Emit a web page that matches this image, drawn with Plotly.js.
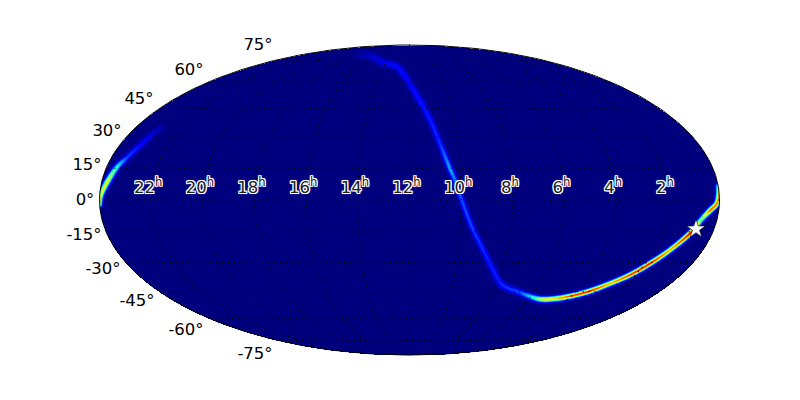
<!DOCTYPE html>
<html><head><meta charset="utf-8">
<script src="https://cdn.plot.ly/plotly-3.0.1.min.js"></script>
<style>html,body{margin:0;padding:0;background:#fff}#c{width:800px;height:400px}</style>
</head><body><div id="c"></div>
<script>
// Ridge of the sky map: right ascension (h), declination (deg), peak level, half width
const tailRA   = [22.86,23.01,23.16,23.38,23.60,23.79,23.95,23.99];
const tailDec  = [35.2,32.2,26.2,20.4,15.6,8.5,2.4,-2];
const tailPeak = [0.03,0.07,0.14,0.19,0.40,0.64,0.60,0.50];
const tailSig  = [2.4,2.2,2.0,2.0,2.0,2.0,1.8,1.6];

const mainRA   = [0.005,0.02,0.10,0.34,0.62,0.89,1.36,1.81,2.27,2.81,3.39,3.99,4.59,5.28,5.87,6.69,7.74,8.46,9.16,9.54,9.93,10.22,10.40,10.73,11.14,11.86,12.87,14.25,15.92,17.74];
const mainDec  = [7,3,-1.4,-4.7,-9,-15.6,-23.6,-30.2,-36,-40.4,-44.3,-46.8,-48.3,-48.9,-47.8,-45.1,-40.9,-32.2,-20.4,-12.7,-1.4,9.4,15.1,27.2,41.4,56.9,69.6,73.1,77.7,78.7];
const mainPeak = [0.35,0.7,0.8,0.82,0.5,0.92,0.72,0.9,0.85,0.72,0.88,0.85,0.72,0.62,0.4,0.2,0.16,0.15,0.17,0.19,0.2,0.24,0.3,0.17,0.15,0.13,0.13,0.1,0.07,0.02];
const mainSig  = [1.8,1.8,1.8,1.8,1.8,1.7,1.7,1.7,1.7,1.7,1.7,1.7,1.8,1.9,2.0,2.1,2.3,2.2,2.0,1.9,1.9,1.9,1.9,2.0,2.2,2.4,2.4,2.6,2.8,3.0];

const starRA = [0.71], starDec = [-13.7];
const decTicks = [75,60,45,30,15,0,-15,-30,-45,-60,-75];
const decLabels = ['75°','60°','45°','30°','15°','0°','-15°','-30°','-45°','-60°','-75°'];
const raTicks = [2,4,6,8,10,12,14,16,18,20,22];
const levels = [[0,'#00007f'],[0.11,'#0000ff'],[0.125,'#0000ff'],[0.375,'#14ffe6'],[0.64,'#ffff00'],[0.91,'#ff0000'],[1,'#7f0000']];

function project(ra, dec){           // Mollweide plane, unit half-axes, RA growing leftwards
  const phi = dec*Math.PI/180; let t = phi;
  const k = Math.PI*Math.sin(phi);
  if(Math.abs(dec)<89.99){ for(let i=0;i<40;i++){ t -= (2*t+Math.sin(2*t)-k)/(2+2*Math.cos(2*t)); } }
  else t = Math.sign(dec)*Math.PI/2;
  return [-(ra-12)/12*Math.cos(t), Math.sin(t)];
}
const PX = 310, PY = 155;
const nx = 2*PX+1, ny = 2*PY+1;
const z = [];
for(let j=0;j<ny;j++){ const yy=-1+j/PY; const row=new Array(nx);
  for(let i=0;i<nx;i++){ const xx=-1+i/PX; row[i]=(xx*xx+yy*yy<=1)?0:null; } z.push(row); }
function burn(ra,dec,peak,sig){
  const Q = ra.map((r,i)=>{const p=project(r,dec[i]);return [p[0]*PX,p[1]*PY];});
  // round the corners of the read ridge when rasterising
  const P=[],pk=[],sg=[],sub=5;
  for(let s=0;s<Q.length-1;s++){
    const a=Q[Math.max(0,s-1)],b=Q[s],c=Q[s+1],d=Q[Math.min(Q.length-1,s+2)];
    for(let k=0;k<sub;k++){const t=k/sub,t2=t*t,t3=t2*t;
      P.push([0,1].map(n=>0.5*(2*b[n]+(c[n]-a[n])*t+(2*a[n]-5*b[n]+4*c[n]-d[n])*t2+(3*b[n]-a[n]-3*c[n]+d[n])*t3)));
      pk.push(peak[s]+t*(peak[s+1]-peak[s]));sg.push(sig[s]+t*(sig[s+1]-sig[s]));}
  }
  P.push(Q[Q.length-1]);pk.push(peak[peak.length-1]);sg.push(sig[sig.length-1]);
  for(let s=0;s<P.length-1;s++){
    const ax=P[s][0],ay=P[s][1],bx=P[s+1][0],by=P[s+1][1];
    const dx=bx-ax,dy=by-ay,L=dx*dx+dy*dy||1;
    const m=10;
    const i0=Math.max(0,Math.floor(Math.min(ax,bx)-m+PX)),i1=Math.min(nx-1,Math.ceil(Math.max(ax,bx)+m+PX));
    const j0=Math.max(0,Math.floor(Math.min(ay,by)-m+PY)),j1=Math.min(ny-1,Math.ceil(Math.max(ay,by)+m+PY));
    for(let j=j0;j<=j1;j++)for(let i=i0;i<=i1;i++){
      if(z[j][i]===null)continue;
      const x=i-PX,y=j-PY;
      let u=((x-ax)*dx+(y-ay)*dy)/L; u=Math.max(0,Math.min(1,u));
      const d2=(x-ax-u*dx)**2+(y-ay-u*dy)**2;
      const w=sg[s]+u*(sg[s+1]-sg[s]),h=pk[s]+u*(pk[s+1]-pk[s]);
      const v=h*Math.exp(-d2/(2*w*w));
      if(v>z[j][i])z[j][i]=v;
    }
  }
}
burn(tailRA,tailDec,tailPeak,tailSig);
burn(mainRA,mainDec,mainPeak,mainSig);

const traces=[{type:'heatmap',z:z,x0:-1,dx:1/PX,y0:-1,dy:1/PY,zmin:0,zmax:1,colorscale:levels,showscale:false,hoverinfo:'skip',zsmooth:false}];
const dotted={color:'#000',width:1.2,dash:'1.2px,4.6px'};
decTicks.forEach(d=>{
  const xs=[],ys=[];
  for(let h=0;h<=24;h+=0.25){const p=project(h,d);xs.push(p[0]);ys.push(p[1]);}
  traces.push({type:'scatter',mode:'lines',x:xs,y:ys,line:dotted,hoverinfo:'skip',showlegend:false});
});
raTicks.forEach(h=>{
  const xs=[],ys=[];
  for(let d=-75;d<=75;d+=3){const p=project(h,d);xs.push(p[0]);ys.push(p[1]);}
  traces.push({type:'scatter',mode:'lines',x:xs,y:ys,line:dotted,hoverinfo:'skip',showlegend:false});
});
{const xs=[],ys=[];for(let a=0;a<=360;a+=1){xs.push(Math.cos(a*Math.PI/180));ys.push(Math.sin(a*Math.PI/180));}
 traces.push({type:'scatter',mode:'lines',x:xs,y:ys,line:{color:'#000',width:1},hoverinfo:'skip',showlegend:false});}
{const p=project(starRA[0],starDec[0]);
 traces.push({type:'scatter',mode:'markers',x:[p[0]],y:[p[1]],marker:{symbol:'star',size:14,color:'#fff',line:{color:'#000',width:0.6}},hoverinfo:'skip',showlegend:false});}

// declination labels sit just outside the outline
const decPos=[[258,46],[189,71],[139,100],[107,132],[87,166],[85,201],[84,236],[103,270],[137,302],[186,331],[255,355]];
traces.push({type:'scatter',mode:'text',x:decPos.map(p=>(p[0]-409.5)/PX),y:decPos.map(p=>(200-p[1])/PY),text:decLabels,
  textposition:'middle center',textfont:{family:'"DejaVu Sans",sans-serif',size:16.5,color:'#000'},hoverinfo:'skip',showlegend:false,cliponaxis:false});
const halo='-1px 0 0 #fff,1px 0 0 #fff,0 -1px 0 #fff,0 1px 0 #fff,-1px -1px 0 #fff,1px -1px 0 #fff,-1px 1px 0 #fff,1px 1px 0 #fff,0 0 3px #999';
traces.push({type:'scatter',mode:'text',x:raTicks.map(h=>project(h,0)[0]-3/PX),y:raTicks.map(()=>11/PY),text:raTicks.map(h=>h+'<sup>h</sup>'),
  textposition:'middle center',textfont:{family:'"DejaVu Sans",sans-serif',size:16.5,color:'#222',shadow:halo},hoverinfo:'skip',showlegend:false,cliponaxis:false});

const layout={width:800,height:400,margin:{l:0,r:0,t:0,b:0},paper_bgcolor:'#fff',plot_bgcolor:'#fff',showlegend:false,
  xaxis:{range:[-409.5/PX,(800-409.5)/PX],visible:false,fixedrange:true},
  yaxis:{range:[-200/PY,200/PY],visible:false,fixedrange:true}};
Plotly.newPlot('c',traces,layout,{displayModeBar:false});
</script></body></html>
